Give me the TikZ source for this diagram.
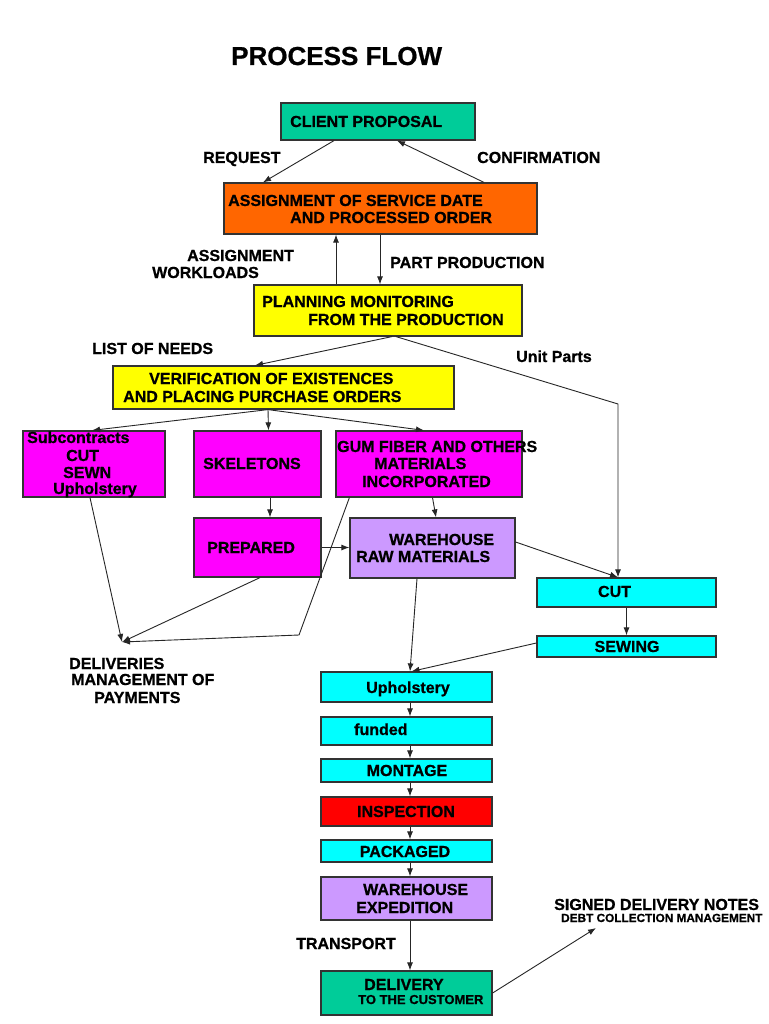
\documentclass[tikz,border=0pt]{standalone}
\usepackage{fontspec}
\setmainfont{Liberation Sans}[BoldFeatures={FakeBold=0.8}]
\usetikzlibrary{arrows.meta}
\definecolor{cteal}{HTML}{00CC99}
\definecolor{corange}{HTML}{FF6600}
\definecolor{cyellow}{HTML}{FFFF00}
\definecolor{cmag}{HTML}{FF00FF}
\definecolor{clav}{HTML}{CC99FF}
\definecolor{ccyan}{HTML}{00FFFF}
\definecolor{cred}{HTML}{FF0000}
\tikzset{
  box/.style={draw=black!80, line width=1.2pt, inner sep=0pt},
  arr/.style={draw=black!85, line width=0.9pt, -{Latex[length=8pt,width=6pt]}},
  txt/.style={inner sep=0pt, anchor=base west, font=\bfseries\fontsize{16}{16}\selectfont},
  ctxt/.style={txt, anchor=base}
}
\begin{document}
\begin{tikzpicture}[x=1pt,y=-1pt]
\useasboundingbox[fill=white] (0,0) rectangle (768,1024);

% boxes
\node[box, fill=cteal, minimum width=194pt, minimum height=37pt] (client) at (378,121.5) {};
\node[box, fill=corange, minimum width=313pt, minimum height=51pt] (assign) at (380.5,208.5) {};
\node[box, fill=cyellow, minimum width=268pt, minimum height=51pt] (plan) at (388,310.5) {};
\node[box, fill=cyellow, minimum width=341pt, minimum height=43pt] (verif) at (283.5,387.5) {};
\node[box, fill=cmag, minimum width=142pt, minimum height=66pt] (subc) at (94,464) {};
\node[box, fill=cmag, minimum width=127pt, minimum height=66pt] (skel) at (257.5,464) {};
\node[box, fill=cmag, minimum width=186pt, minimum height=66pt] (gum) at (429,464) {};
\node[box, fill=cmag, minimum width=127pt, minimum height=59pt] (prep) at (257.5,547.5) {};
\node[box, fill=clav, minimum width=165pt, minimum height=60pt] (wraw) at (432.5,548) {};
\node[box, fill=ccyan, minimum width=179pt, minimum height=29pt] (cut) at (626.5,592.5) {};
\node[box, fill=ccyan, minimum width=179pt, minimum height=21pt] (sew) at (626.5,646.5) {};
\node[box, fill=ccyan, minimum width=171pt, minimum height=30pt] (uph) at (406.5,687) {};
\node[box, fill=ccyan, minimum width=171pt, minimum height=28pt] (fund) at (406.5,731) {};
\node[box, fill=ccyan, minimum width=171pt, minimum height=23pt] (mont) at (406.5,770.5) {};
\node[box, fill=cred, minimum width=171pt, minimum height=29pt] (insp) at (406.5,811.5) {};
\node[box, fill=ccyan, minimum width=171pt, minimum height=22pt] (pack) at (406.5,851) {};
\node[box, fill=clav, minimum width=171pt, minimum height=43pt] (wexp) at (406.5,898.5) {};
\node[box, fill=cteal, minimum width=171pt, minimum height=44pt] (deliv) at (406.5,993) {};

% free connector ends
\coordinate (upc) at (618,404);
\coordinate (dtip) at (122,642);
\coordinate (gcorner) at (299,635);
\coordinate (sig) at (596,928);

% texts
\node[txt, font=\bfseries\fontsize{26}{26}\selectfont] (title) at (231,65) {PROCESS FLOW};
\node[txt] (t1) at (290,127) {CLIENT PROPOSAL};
\node[txt] (lreq) at (203,163) {REQUEST};
\node[txt] (lconf) at (477,163) {CONFIRMATION};
\node[txt] (t2a) at (228,206) {ASSIGNMENT OF SERVICE DATE};
\node[txt] (t2b) at (290,223) {AND PROCESSED ORDER};
\node[txt] (law1) at (187,261) {ASSIGNMENT};
\node[txt] (law2) at (152,278) {WORKLOADS};
\node[txt] (lpp) at (390,268) {PART PRODUCTION};
\node[txt] (t3a) at (262,307) {PLANNING MONITORING};
\node[txt] (t3b) at (308,325) {FROM THE PRODUCTION};
\node[txt] (lneeds) at (92,354) {LIST OF NEEDS};
\node[txt] (lunit) at (516,362) {Unit Parts};
\node[txt] (t4a) at (149,384) {VERIFICATION OF EXISTENCES};
\node[txt] (t4b) at (123,402) {AND PLACING PURCHASE ORDERS};
\node[txt] (t5a) at (27,443) {Subcontracts};
\node[txt] (t5b) at (66,461) {CUT};
\node[txt] (t5c) at (63,478) {SEWN};
\node[txt] (t5d) at (53,494) {Upholstery};
\node[txt] (t6) at (203,469) {SKELETONS};
\node[txt] (t7a) at (337,452) {GUM FIBER AND OTHERS};
\node[txt] (t7b) at (374,469) {MATERIALS};
\node[txt] (t7c) at (362,487) {INCORPORATED};
\node[txt] (t8) at (207,553) {PREPARED};
\node[txt] (t9a) at (389,545) {WAREHOUSE};
\node[txt] (t9b) at (356,562) {RAW MATERIALS};
\node[ctxt] (t10) at (614.5,597) {CUT};
\node[ctxt] (t11) at (627,652) {SEWING};
\node[txt] (ld1) at (69,669) {DELIVERIES};
\node[txt] (ld2) at (71,685) {MANAGEMENT OF};
\node[txt] (ld3) at (94,703) {PAYMENTS};
\node[ctxt] (t12) at (408,693) {Upholstery};
\node[txt] (t13) at (354,735) {funded};
\node[ctxt] (t14) at (407,776) {MONTAGE};
\node[ctxt] (t15) at (406,817) {INSPECTION};
\node[ctxt] (t16) at (405,857) {PACKAGED};
\node[txt] (t17a) at (363,895) {WAREHOUSE};
\node[txt] (t17b) at (356,913) {EXPEDITION};
\node[txt] (ltr) at (296,949) {TRANSPORT};
\node[txt] (t18a) at (364,990) {DELIVERY};
\node[txt, font=\bfseries\fontsize{13}{13}\selectfont] (t18b) at (358,1004) {TO THE CUSTOMER};
\node[txt] (lsig) at (554,910) {SIGNED DELIVERY NOTES};
\node[txt, font=\bfseries\fontsize{11.8}{12}\selectfont] (ldebt) at (561,922) {DEBT COLLECTION MANAGEMENT};

% connectors
\draw[arr] ([xshift=-44pt]client.south) -- ([xshift=-117.5pt]assign.north);
\draw[arr] ([xshift=103.5pt]assign.north) -- ([xshift=19pt]client.south);
\draw[arr] ([xshift=-52pt]plan.north) -- ([xshift=-52pt]plan.north |- assign.south);
\draw[arr] ([xshift=-0.5pt]assign.south) -- ([xshift=-0.5pt]assign.south |- plan.north);
\draw[arr] ([xshift=4pt]plan.south) -- ([xshift=-28.5pt]verif.north);
\draw[arr] ([xshift=8pt]plan.south) -- (upc) -- ([xshift=-8.5pt]cut.north);
\draw[arr] ([xshift=-15.5pt]verif.south) -- ([xshift=-2pt]subc.north);
\draw[arr] ([xshift=-15.5pt]verif.south) -- ([xshift=11pt]skel.north);
\draw[arr] ([xshift=-15.5pt]verif.south) -- ([xshift=-5pt]gum.north);
\draw[arr] ([xshift=12.5pt]skel.south) -- ([xshift=12.5pt]prep.north);
\draw[arr] ([xshift=3.5pt]gum.south) -- ([xshift=3.5pt]wraw.north);
\draw[arr] (prep.east) -- (prep.east -| wraw.west);
\draw[arr] ([yshift=6pt]wraw.east) -- ([xshift=-8.5pt]cut.north);
\draw[arr] ([xshift=-15.5pt]wraw.south) -- ([xshift=3.5pt]uph.north);
\draw[arr] (cut.south) -- (sew.north);
\draw[arr] ([yshift=3.5pt]sew.west) -- ([xshift=5pt]uph.north);
\draw[arr] ([xshift=3.5pt]uph.south) -- ([xshift=3.5pt]fund.north);
\draw[arr] ([xshift=3.5pt]fund.south) -- ([xshift=3.5pt]mont.north);
\draw[arr] ([xshift=3.5pt]mont.south) -- ([xshift=3.5pt]insp.north);
\draw[arr] ([xshift=3.5pt]insp.south) -- ([xshift=3.5pt]pack.north);
\draw[arr] ([xshift=3.5pt]pack.south) -- ([xshift=3.5pt]wexp.north);
\draw[arr] ([xshift=3.5pt]wexp.south) -- ([xshift=3.5pt]deliv.north);
\draw[arr] (deliv.east) -- (sig);
\draw[arr] ([xshift=-4pt]subc.south) -- (dtip);
\draw[arr] ([xshift=2.5pt]prep.south) -- (dtip);
\draw[arr] ([xshift=14pt]gum.south west) -- (gcorner) -- (dtip);
\end{tikzpicture}
\end{document}
